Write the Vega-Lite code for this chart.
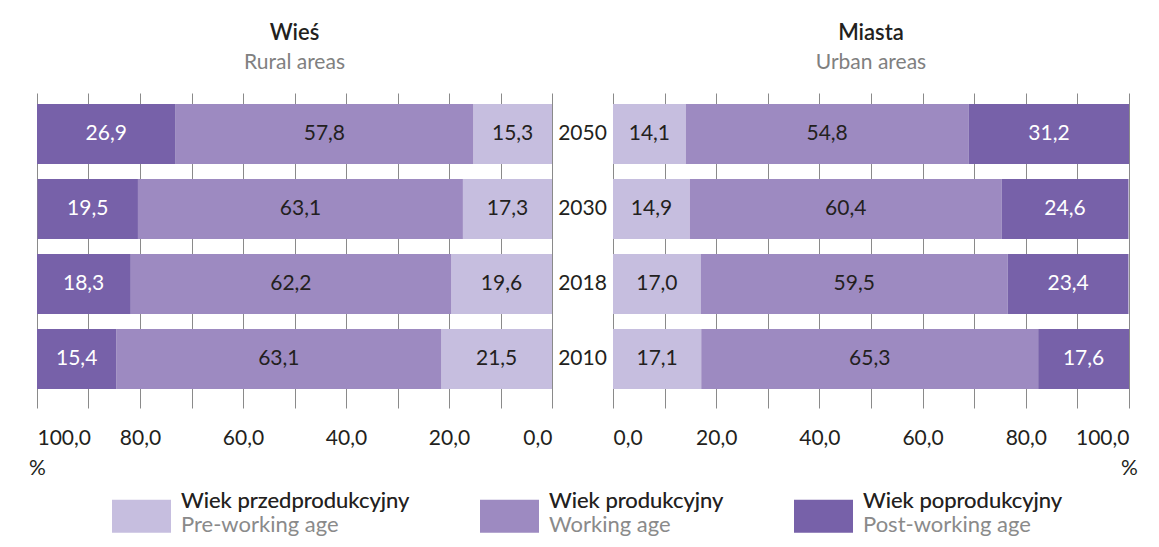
{
  "$schema": "https://vega.github.io/schema/vega-lite/v6.json",
  "padding": {"left": 28, "top": 22, "right": 0, "bottom": 0},
  "bounds": "flush",
  "spacing": 61,
  "config": {
    "font": "Lato",
    "locale": {"number": {"decimal": ",", "thousands": " ", "grouping": [3], "currency": ["", " zł"]}},
    "view": {"stroke": null},
    "title": {"fontSize": 22, "fontWeight": 600, "color": "#231F20", "subtitleFontSize": 21, "subtitleColor": "#808080", "subtitlePadding": 7, "anchor": "middle", "offset": 19},
    "axisX": {"grid": true, "gridColor": "#8a8a8a", "gridWidth": 1, "domain": false, "ticks": false, "labelFontSize": 21, "labelPadding": 19, "labelColor": "#231F20", "format": ".1f", "values": [0, 20, 40, 60, 80, 100], "titleFontSize": 21, "titleFontWeight": "normal", "titleColor": "#231F20", "titleAnchor": "end", "titleAlign": "center", "titlePadding": 9},
    "legend": {"orient": "none", "legendX": 75, "legendY": 378, "direction": "horizontal", "columns": 3, "symbolType": "M-1,-0.035H1V1.085H-1Z", "symbolSize": 3481, "symbolStrokeWidth": 0, "labelFontSize": 22, "labelOffset": 10, "columnPadding": 70, "labelBaseline": "middle", "labelLineHeight": 25, "labelLimit": 500, "title": null, "padding": 0}
  },
  "datasets": {
    "rural": [
      {"year": "2050", "group": "Wiek przedprodukcyjny", "value": 15.3},
      {"year": "2050", "group": "Wiek produkcyjny", "value": 57.8},
      {"year": "2050", "group": "Wiek poprodukcyjny", "value": 26.9},
      {"year": "2030", "group": "Wiek przedprodukcyjny", "value": 17.3},
      {"year": "2030", "group": "Wiek produkcyjny", "value": 63.1},
      {"year": "2030", "group": "Wiek poprodukcyjny", "value": 19.5},
      {"year": "2018", "group": "Wiek przedprodukcyjny", "value": 19.6},
      {"year": "2018", "group": "Wiek produkcyjny", "value": 62.2},
      {"year": "2018", "group": "Wiek poprodukcyjny", "value": 18.3},
      {"year": "2010", "group": "Wiek przedprodukcyjny", "value": 21.5},
      {"year": "2010", "group": "Wiek produkcyjny", "value": 63.1},
      {"year": "2010", "group": "Wiek poprodukcyjny", "value": 15.4}
    ],
    "urban": [
      {"year": "2050", "group": "Wiek przedprodukcyjny", "value": 14.1},
      {"year": "2050", "group": "Wiek produkcyjny", "value": 54.8},
      {"year": "2050", "group": "Wiek poprodukcyjny", "value": 31.2},
      {"year": "2030", "group": "Wiek przedprodukcyjny", "value": 14.9},
      {"year": "2030", "group": "Wiek produkcyjny", "value": 60.4},
      {"year": "2030", "group": "Wiek poprodukcyjny", "value": 24.6},
      {"year": "2018", "group": "Wiek przedprodukcyjny", "value": 17.0},
      {"year": "2018", "group": "Wiek produkcyjny", "value": 59.5},
      {"year": "2018", "group": "Wiek poprodukcyjny", "value": 23.4},
      {"year": "2010", "group": "Wiek przedprodukcyjny", "value": 17.1},
      {"year": "2010", "group": "Wiek produkcyjny", "value": 65.3},
      {"year": "2010", "group": "Wiek poprodukcyjny", "value": 17.6}
    ]
  },
  "resolve": {"scale": {"color": "shared", "shape": "shared"}, "legend": {"color": "shared", "shape": "shared"}},
  "hconcat": [
    {
      "width": 515,
      "height": 315,
      "data": {"name": "rural"},
      "title": {"text": "Wieś", "subtitle": "Rural areas"},
      "encoding": {
        "y": {"field": "year", "type": "nominal", "sort": ["2050", "2030", "2018", "2010"], "scale": {"paddingInner": 0.2, "paddingOuter": 0.2, "align": 0.367},
              "axis": {"orient": "right", "domain": false, "ticks": false, "labelAlign": "center", "labelPadding": 30, "labelFontSize": 21, "labelColor": "#231F20", "title": null}}
      },
      "layer": [
        {
          "mark": {"type": "bar", "clip": true},
          "encoding": {
            "x": {"field": "value", "type": "quantitative", "stack": "zero", "scale": {"domain": [0, 100], "reverse": true, "nice": false}, "axis": {"title": "%"}},
            "color": {"field": "group", "type": "nominal", "scale": {"domain": ["Wiek przedprodukcyjny", "Wiek produkcyjny", "Wiek poprodukcyjny"], "range": ["#C6BEDF", "#9D8AC1", "#7761A9"]},
                      "legend": {"zindex": 0, "labelColor": "#8a8a8a", "labelExpr": "datum.label == 'Wiek przedprodukcyjny' ? ['Wiek przedprodukcyjny', 'Pre-working age'] : datum.label == 'Wiek produkcyjny' ? ['Wiek produkcyjny', 'Working age'] : ['Wiek poprodukcyjny', 'Post-working age']"}},
            "order": {"field": "group", "sort": "descending"}
          }
        },
        {
          "mark": {"type": "text", "fontSize": 21},
          "encoding": {
            "x": {"field": "value", "type": "quantitative", "stack": "zero", "bandPosition": 0.5},
            "text": {"field": "value", "type": "quantitative", "format": ".1f"},
            "color": {"condition": {"test": "datum.group == 'Wiek poprodukcyjny'", "value": "#ffffff"}, "value": "#231F20"},
            "order": {"field": "group", "sort": "descending"}
          }
        },
        {
          "mark": {"type": "point", "opacity": 0},
          "encoding": {
            "x": {"field": "value", "type": "quantitative"},
            "shape": {"field": "group", "type": "nominal", "sort": ["Wiek przedprodukcyjny", "Wiek produkcyjny", "Wiek poprodukcyjny"], "scale": {"range": ["M-1,-0.035H1V1.085H-1Z", "M-1,-0.035H1V1.085H-1Z", "M-1,-0.035H1V1.085H-1Z"]},
                      "legend": {"zindex": 1, "symbolOpacity": 0, "labelColor": "#231F20", "labelExpr": "[datum.label, '']"}}
          }
        }
      ]
    },
    {
      "width": 516,
      "height": 315,
      "data": {"name": "urban"},
      "title": {"text": "Miasta", "subtitle": "Urban areas"},
      "encoding": {
        "y": {"field": "year", "type": "nominal", "sort": ["2050", "2030", "2018", "2010"], "scale": {"paddingInner": 0.2, "paddingOuter": 0.2, "align": 0.367}, "axis": null}
      },
      "layer": [
        {
          "mark": {"type": "bar", "clip": true},
          "encoding": {
            "x": {"field": "value", "type": "quantitative", "stack": "zero", "scale": {"domain": [0, 100], "nice": false}, "axis": {"title": "%"}},
            "color": {"field": "group", "type": "nominal"},
            "order": {"field": "group", "sort": "descending"}
          }
        },
        {
          "mark": {"type": "text", "fontSize": 21},
          "encoding": {
            "x": {"field": "value", "type": "quantitative", "stack": "zero", "bandPosition": 0.5},
            "text": {"field": "value", "type": "quantitative", "format": ".1f"},
            "color": {"condition": {"test": "datum.group == 'Wiek poprodukcyjny'", "value": "#ffffff"}, "value": "#231F20"},
            "order": {"field": "group", "sort": "descending"}
          }
        }
      ]
    }
  ]
}
